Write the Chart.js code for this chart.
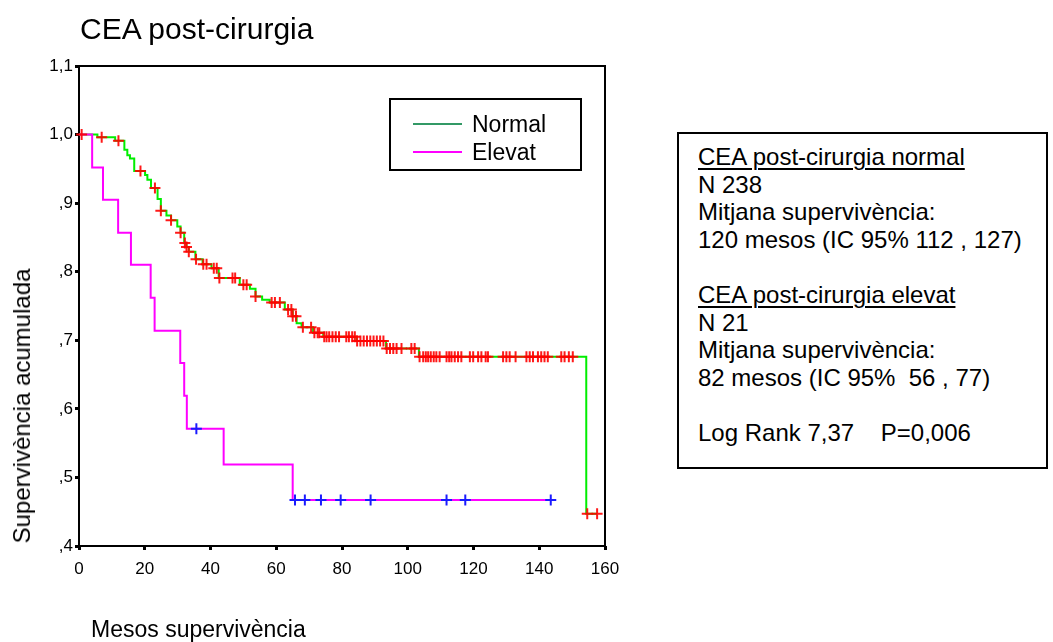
<!DOCTYPE html>
<html>
<head>
<meta charset="utf-8">
<script src="https://cdn.jsdelivr.net/npm/chart.js@4/dist/chart.umd.min.js"></script>
<style>
  html,body{margin:0;padding:0;background:#fff;}
  body{width:1053px;height:642px;position:relative;overflow:hidden;font-family:"Liberation Sans",Arial,Helvetica,sans-serif;color:#000;}
  #c{position:absolute;left:0;top:0;}
  .t{position:absolute;white-space:nowrap;line-height:1;}
  #title{left:80px;top:14px;font-size:30px;}
  #xtitle{left:91px;top:618px;font-size:23px;}
  #ytitle{left:22px;top:406px;font-size:24px;transform:translate(-50%,-50%) rotate(-90deg);}
  #legend{position:absolute;left:389px;top:98px;width:193px;height:73px;border:2px solid #000;box-sizing:border-box;}
  .lgline{position:absolute;left:22px;width:49px;height:2px;}
  .lgtxt{position:absolute;left:81px;font-size:23px;line-height:1;}
  #box{position:absolute;left:677px;top:132px;width:371px;height:337px;border:2px solid #000;box-sizing:border-box;}
  #boxtxt{position:absolute;left:698px;top:143px;font-size:24px;line-height:27.6px;white-space:pre;}
  .u{text-decoration:underline;text-underline-offset:3px;text-decoration-thickness:2px;}
</style>
</head>
<body>
<canvas id="c" width="640" height="642"></canvas>
<div class="t" id="title">CEA post-cirurgia</div>
<div class="t" id="xtitle">Mesos supervivència</div>
<div class="t" id="ytitle">Supervivència acumulada</div>
<div id="legend">
  <div class="lgline" style="top:23px;background:#339966"></div>
  <div class="lgtxt" style="top:13px">Normal</div>
  <div class="lgline" style="top:51px;background:#ff00ff"></div>
  <div class="lgtxt" style="top:41px">Elevat</div>
</div>
<div id="box"></div>
<div id="boxtxt"><span class="u">CEA post-cirurgia normal</span>
N 238
Mitjana supervivència:
120 mesos (IC 95% 112 , 127)

<span class="u">CEA post-cirurgia elevat</span>
N 21
Mitjana supervivència:
82 mesos (IC 95%  56 , 77)

Log Rank 7,37    P=0,006</div>
<script>
// ---- data ----
const xTickValues = [0, 20, 40, 60, 80, 100, 120, 140, 160];
const yTickValues = [0.4, 0.5, 0.6, 0.7, 0.8, 0.9, 1.0, 1.1];
const yTickLabels = [',4', ',5', ',6', ',7', ',8', ',9', '1,0', '1,1'];

// Normal group: step times (months) and survival after each step
const normalTimes = [0, 5.6, 11.0, 13.8, 14.7, 15.5, 16.8, 20.1, 20.8, 21.9,
  23.9, 24.9, 26.6, 28.0, 29.9, 30.9, 32.0, 32.7, 33.4, 35.4,
  37.6, 40.3, 42.5, 48.9, 52.0, 53.7, 55.7, 58.0, 62.6, 65.0,
  66.2, 67.7, 71.2, 74.3, 84.4, 93.4, 103.4, 154.3];
const normalSurv = [1.000, 0.996, 0.991, 0.978, 0.970, 0.965, 0.947, 0.941, 0.934, 0.922,
  0.906, 0.889, 0.882, 0.875, 0.866, 0.857, 0.842, 0.836, 0.829, 0.818,
  0.811, 0.805, 0.791, 0.781, 0.775, 0.764, 0.759, 0.755, 0.745, 0.735,
  0.725, 0.719, 0.711, 0.705, 0.699, 0.688, 0.676, 0.447];
const normalEnd = 157.6;
const normalCensored = [0.8, 6.9, 12.0, 18.7, 23.1, 24.9, 28.0, 30.9, 32.2, 32.7, 33.4, 35.6,
  37.8, 38.8, 41.0, 41.9, 42.7, 46.7, 47.5, 50.0, 51.0, 53.7, 58.6, 59.6, 61.1, 63.6, 64.6,
  65.0, 66.0, 68.1, 70.6, 71.6, 72.6, 73.1, 74.6, 75.3, 76.1, 77.1, 78.1, 79.1, 81.3, 82.1,
  83.1, 83.9, 84.6, 85.6, 86.6, 87.6, 88.6, 89.6, 90.6, 91.6, 92.6, 93.6, 94.6, 95.6, 96.6,
  98.1, 101.1, 102.1, 103.6, 104.7, 105.5, 106.2, 107.0, 107.9, 108.7, 109.7, 111.8, 112.6,
  113.3, 114.3, 115.3, 116.3, 118.9, 119.9, 121.4, 122.4, 123.7, 124.4, 129.0, 130.0, 131.0,
  132.8, 136.1, 137.1, 138.1, 139.6, 140.6, 141.6, 142.6, 146.7, 147.7, 149.0, 150.2, 154.6, 157.6];

// Elevat group
const elevatTimes = [0, 4.0, 7.3, 11.9, 15.8, 21.8, 23.0, 30.8, 32.0, 32.8, 44.0, 65.0];
const elevatSurv = [1.000, 0.952, 0.905, 0.857, 0.810, 0.762, 0.714, 0.667, 0.619, 0.571, 0.519, 0.467];
const elevatEnd = 143.5;
const elevatCensored = [35.7, 65.7, 68.7, 73.6, 79.6, 88.7, 111.8, 117.5, 143.5];

// ---- helpers ----
function survAt(times, surv, t) {
  let v = surv[0];
  for (let i = 0; i < times.length; i++) { if (times[i] <= t) v = surv[i]; }
  return v;
}
function stepPoints(times, surv, end) {
  const pts = times.map((t, i) => ({x: t, y: surv[i]}));
  pts.push({x: end, y: surv[surv.length - 1]});
  return pts;
}
function censorPoints(times, surv, cens) {
  return cens.map(t => ({x: t, y: survAt(times, surv, t)}));
}

const framePlugin = {
  id: 'frame',
  beforeDatasetsDraw(chart) {
    const {ctx, chartArea: a} = chart;
    ctx.save();
    ctx.strokeStyle = '#000';
    ctx.lineWidth = 2;
    ctx.strokeRect(a.left, a.top, a.right - a.left, a.bottom - a.top);
    ctx.restore();
  }
};

const tickFont = {family: '"Liberation Sans", Arial, sans-serif', size: 17};

new Chart(document.getElementById('c'), {
  type: 'scatter',
  data: {
    datasets: [
      {label: 'Normal censurats', data: censorPoints(normalTimes, normalSurv, normalCensored),
       showLine: false, pointStyle: 'cross', pointRadius: 5.5, pointBorderWidth: 2,
       borderColor: 'rgba(255,0,0,0.9)', backgroundColor: 'rgba(255,0,0,0.9)', order: 0, clip: false},
      {label: 'Elevat censurats', data: censorPoints(elevatTimes, elevatSurv, elevatCensored),
       showLine: false, pointStyle: 'cross', pointRadius: 5.5, pointBorderWidth: 2,
       borderColor: '#1a1aff', backgroundColor: '#1a1aff', order: 0, clip: false},
      {label: 'Normal', data: stepPoints(normalTimes, normalSurv, normalEnd),
       showLine: true, stepped: 'before', borderColor: '#00ee00', borderWidth: 2,
       pointRadius: 0, fill: false, order: 2},
      {label: 'Elevat', data: stepPoints(elevatTimes, elevatSurv, elevatEnd),
       showLine: true, stepped: 'before', borderColor: '#ff00ff', borderWidth: 2,
       pointRadius: 0, fill: false, order: 1}
    ]
  },
  options: {
    responsive: false,
    animation: false,
    events: [],
    layout: {padding: {top: 66, right: 35, left: 0, bottom: 0}},
    plugins: {legend: {display: false}, tooltip: {enabled: false}},
    scales: {
      x: {
        type: 'linear', min: 0, max: 160,
        afterBuildTicks: s => { s.ticks = xTickValues.map(v => ({value: v})); },
        afterFit: s => { s.height = 96; },
        ticks: {color: '#000', font: tickFont, padding: 9, maxRotation: 0,
                callback: v => String(v)},
        grid: {display: true, drawOnChartArea: false, drawTicks: true, tickLength: 4,
               tickWidth: 3, color: '#000', tickColor: '#000'},
        border: {display: false}
      },
      y: {
        type: 'linear', min: 0.4, max: 1.1,
        afterBuildTicks: s => { s.ticks = yTickValues.map(v => ({value: v})); },
        afterFit: s => { s.width = 79; },
        ticks: {color: '#000', font: tickFont, padding: 2,
                callback: (v, i) => yTickLabels[i]},
        grid: {display: true, drawOnChartArea: false, drawTicks: true, tickLength: 4,
               tickWidth: 3, color: '#000', tickColor: '#000'},
        border: {display: false}
      }
    }
  },
  plugins: [framePlugin]
});
</script>
</body>
</html>
